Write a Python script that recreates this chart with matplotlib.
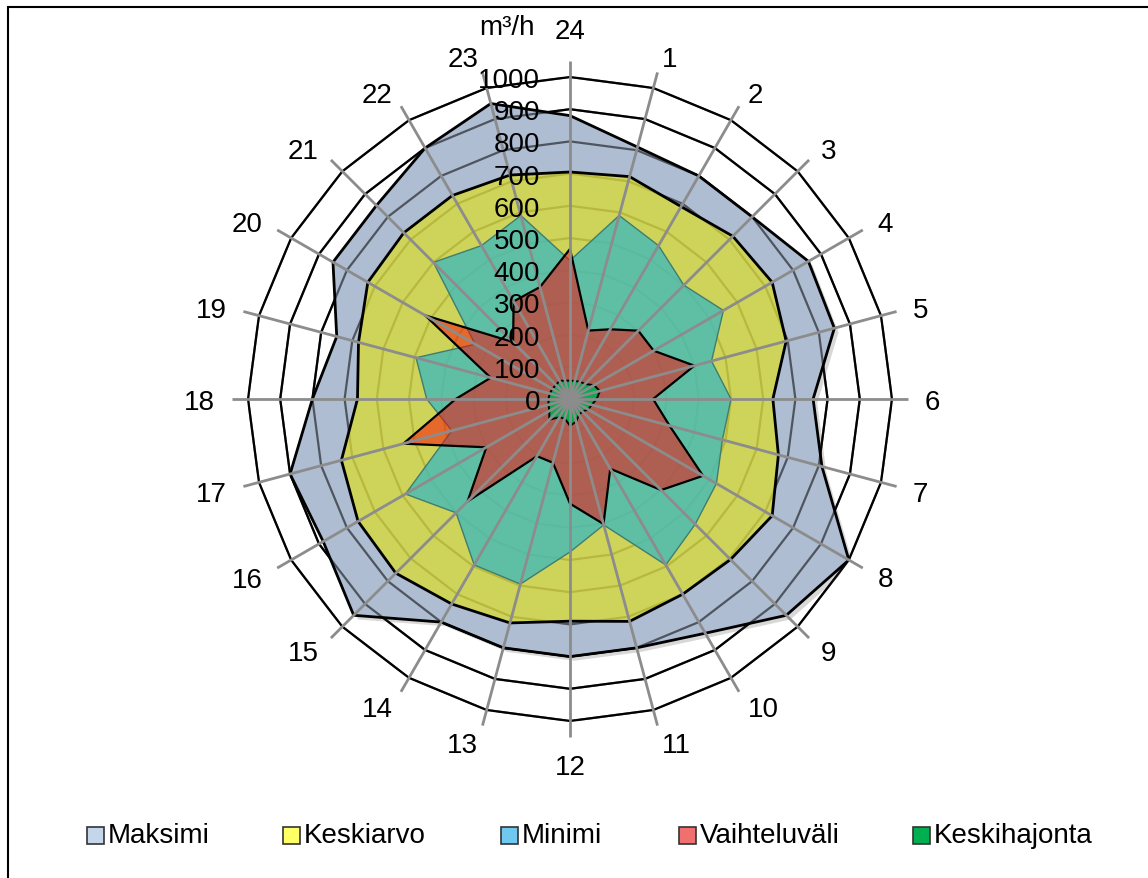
import numpy as np
import matplotlib.pyplot as plt
import matplotlib.patheffects as pe
from matplotlib.patches import Rectangle
from matplotlib.transforms import offset_copy

plt.rcParams['font.family'] = ['Liberation Sans', 'DejaVu Sans']

# hourly flow, m3/h, hours 1..24 (24 sits at the top)
hours = [str(h) for h in range(1, 25)]
maksimi = [810, 800, 800, 855, 850, 755, 810, 1000, 950, 840, 800, 800,
           800, 800, 950, 885, 900, 800, 750, 850, 850, 900, 950, 880]
keskiarvo = [715, 690, 715, 725, 695, 630, 670, 725, 705, 700, 715, 690,
             720, 735, 765, 760, 735, 660, 680, 725, 730, 730, 720, 705]
minimi = [590, 550, 500, 550, 455, 500, 490, 525, 550, 595, 405, 475,
          595, 595, 500, 590, 380, 445, 495, 340, 600, 550, 590, 430]
vaihteluvali = [220, 250, 300, 300, 400, 258, 320, 477, 400, 250, 402, 325,
                205, 205, 450, 300, 536, 355, 255, 520, 250, 350, 360, 466]
keskihajonta = [58, 62, 66, 86, 96, 83, 70, 65, 55, 56, 73, 83,
                63, 65, 91, 74, 69, 67, 65, 63, 62, 65, 59, 57]
series_names = ['Maksimi', 'Keskiarvo', 'Minimi', 'Vaihteluväli', 'Keskihajonta']
levels = list(range(0, 1001, 100))
unit = 'm³/h'

W, H = 1148, 879
cx, cy, R = 570, 400, 322
FS = 20

fig = plt.figure(figsize=(W / 100, H / 100), dpi=100)
ax = fig.add_axes([(cx - R) / W, (H - cy - R) / H, 2 * R / W, 2 * R / H],
                  projection='polar')
ax.set_theta_zero_location('N')
ax.set_theta_direction(-1)
ax.set_ylim(0, 1000)
ax.axis('off')

theta = np.deg2rad(np.arange(1, 25) * 15.0)
th_c = np.append(theta, theta[0])


def closed(v):
    return np.append(v, v[0])


# polygon grid, full black where no area covers it
for lv in levels[1:]:
    ax.plot(th_c, [lv] * 25, color='black', lw=1.6, zorder=1, clip_on=False)

# areas
ax.fill(th_c, closed(maksimi), facecolor='#aebdd2', edgecolor='black', lw=2,
        zorder=2, path_effects=[pe.SimplePatchShadow(offset=(3, -3), shadow_rgbFace='0.4', alpha=0.25),
                                pe.Normal()])
# grid seen through the areas
for lv in levels[1:]:
    ax.plot(th_c, [lv] * 25, color='black', lw=1.6, alpha=0.55, zorder=2.5)
ax.fill(th_c, closed(keskiarvo), facecolor=(218 / 255, 219 / 255, 50 / 255, 0.75),
        edgecolor='black', lw=2, zorder=3)
ax.fill(th_c, closed(minimi), facecolor=(67 / 255, 187 / 255, 184 / 255, 0.8),
        edgecolor='#3f7d6e', lw=1, zorder=4)
ax.fill(th_c, closed(vaihteluvali), facecolor=(1, 0, 0, 0.5),
        edgecolor='black', lw=1.6, zorder=5)
ax.fill(th_c, closed(keskihajonta), facecolor=(0, 0.69, 0.31, 0.95),
        edgecolor='black', lw=1.4, zorder=6)

# spokes
for t in theta:
    ax.plot([t, t], [0, 1050], color='#8c8c8c', lw=2, zorder=8,
            solid_capstyle='butt', clip_on=False)

# hour labels around the outside, anchored by the edge nearest the chart
r_lab = 355 / R * 1000
for t, h in zip(theta, hours):
    s, c = np.sin(t), np.cos(t)
    if abs(s) < 0.01:
        ha, va = 'center', ('bottom' if c > 0 else 'top')
    else:
        ha, va = ('left' if s > 0 else 'right'), 'center_baseline'
    ax.text(t, r_lab, h, ha=ha, va=va, fontsize=FS, zorder=10, clip_on=False)

# value axis labels along the 24 spoke
tick_tr = offset_copy(ax.transData, fig=fig, x=-30, y=0, units='dots')
for lv in levels:
    ax.text(0, lv, str(lv), transform=tick_tr, ha='right', va='center_baseline',
            fontsize=FS, zorder=10, clip_on=False)

fig.text(507 / W, 1 - 28 / H, unit, ha='center', va='center', fontsize=FS)

# legend
leg_colors = ['#c5d5ea', '#ffff66', '#70c8f0', '#f07070', '#00b050']
leg_x = [87, 283, 501, 679, 913]
for name, col, x in zip(series_names, leg_colors, leg_x):
    fig.patches.append(Rectangle((x / W, 1 - 845 / H), 17 / W, 17 / H,
                                 transform=fig.transFigure, facecolor=col,
                                 edgecolor='#333333', lw=1.2))
    fig.text((x + 21) / W, 1 - 836 / H, name, ha='left', va='center', fontsize=FS)

# outer frame (left and top edges)
fig.patches.append(Rectangle((8 / W, -0.1), 1.2, (H - 8) / H + 0.1,
                             transform=fig.transFigure, fill=False,
                             edgecolor='black', lw=1.5))

fig.savefig('out.png', dpi=100)
